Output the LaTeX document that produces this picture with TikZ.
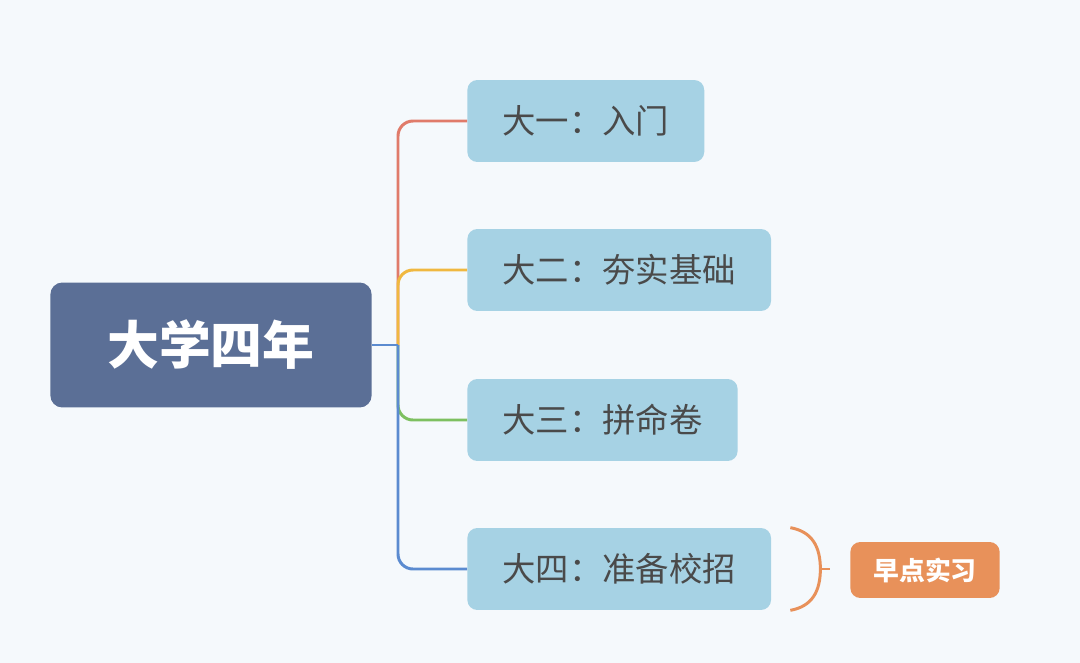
\documentclass[tikz,border=0pt]{standalone}
\usepackage{fontspec}
\newfontfamily\cjk{Noto Sans CJK SC}
\usepackage{xcolor}
\definecolor{mmbg}{HTML}{F5F9FC}
\definecolor{mmroot}{HTML}{5B6F96}
\definecolor{mmchild}{HTML}{A6D2E4}
\definecolor{mmtext}{HTML}{4A4A4A}
\definecolor{mmred}{HTML}{E07B6A}
\definecolor{mmyellow}{HTML}{F0B840}
\definecolor{mmgreen}{HTML}{7DC060}
\definecolor{mmblue}{HTML}{5B8BD0}
\definecolor{mmorange}{HTML}{E8915A}
\usetikzlibrary{calc}

\tikzset{
  rootbox/.style={fill=mmroot, rounded corners=0.24cm, text=white, inner xsep=1.14cm, minimum height=2.5cm, font=\cjk\bfseries\fontsize{29.5pt}{30pt}\selectfont},
  yearbox/.style={fill=mmchild, rounded corners=0.2cm, text=mmtext, anchor=west, inner xsep=0.7cm, minimum height=1.64cm, font=\cjk\fontsize{19pt}{20pt}\selectfont},
  notebox/.style={fill=mmorange, rounded corners=0.2cm, text=white, anchor=west, inner xsep=0.46cm, minimum height=1.12cm, font=\cjk\bfseries\fontsize{14.7pt}{15pt}\selectfont},
  branch/.style={line width=1.7pt, rounded corners=0.3cm},
}

\begin{document}
\begin{tikzpicture}[x=0.02cm, y=-0.02cm]
  % Background
  \fill[mmbg] (0,0) rectangle (1080,663);
  \useasboundingbox (0,0) rectangle (1080,663);

  % Nodes
  \node[rootbox] (root) at (211,345) {大学四年};
  \node[yearbox] (y1) at (467,121) {大一：入门};
  \node[yearbox] (y2) at (467,270) {大二：夯实基础};
  \node[yearbox] (y3) at (467,420) {大三：拼命卷};
  \node[yearbox] (y4) at (467,569) {大四：准备校招};
  \node[notebox] (early) at (850,570) {早点实习};

  % Branches
  \coordinate (hub) at (398,345);
  \draw[branch, mmred] (hub) |- (y1.west);
  \draw[branch, mmyellow] (hub) |- (y2.west);
  \draw[branch, mmgreen] (hub) |- (y3.west);
  \draw[branch, mmblue] (hub) |- (y4.west);
  \draw[line width=1.7pt, mmblue] (root.east) -- (hub);

  % Brace
  \coordinate (bt) at ($(y4.north east)+(19,0)$);
  \coordinate (bb) at ($(y4.south east)+(19,0)$);
  \coordinate (bm) at ($(y4.east)+(49,0)$);
  \coordinate (bk) at ($(y4.east)+(59,0)$);
  \draw[line width=1.7pt, mmorange] (bt) .. controls ($(bt)+(22,4)$) and ($(bm)+(0,-22)$) .. (bm)
    .. controls ($(bm)+(0,22)$) and ($(bb)+(22,-4)$) .. (bb);
  \draw[line width=1.7pt, mmorange] (bm) -- (bk);
\end{tikzpicture}
\end{document}
